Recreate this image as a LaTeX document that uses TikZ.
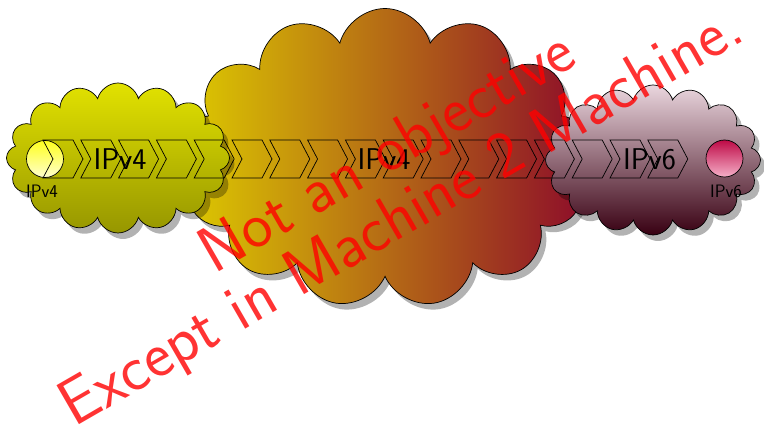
\documentclass[tikz,border=0pt]{standalone}
\usepackage{fontspec}
\usetikzlibrary{shapes.symbols,shadows}
\definecolor{lctop}{RGB}{226,226,0}
\definecolor{lcbot}{RGB}{150,150,0}
\definecolor{bcleft}{RGB}{222,204,0}
\definecolor{bcright}{RGB}{140,10,42}
\definecolor{rctop}{RGB}{234,214,222}
\definecolor{rcbot}{RGB}{56,0,18}
\definecolor{cytop}{RGB}{255,255,30}
\definecolor{cybot}{RGB}{255,255,205}
\definecolor{cptop}{RGB}{190,10,70}
\definecolor{cpbot}{RGB}{245,175,200}
\definecolor{wmred}{RGB}{255,0,0}
\tikzset{
  cloudbase/.style={shape=cloud, draw=black, line width=0.7pt, inner sep=0pt,
    drop shadow={shadow xshift=5pt, shadow yshift=-6pt, opacity=0.3, fill=black}},
  endpoint/.style={circle, draw=black, line width=0.7pt, minimum size=37pt, inner sep=0pt},
  chevron/.style={draw=black, line width=0.7pt, line join=miter},
  biglabel/.style={font=\sffamily\fontsize{30}{36}\selectfont, anchor=base, inner sep=0pt},
  smalllabel/.style={font=\sffamily\fontsize{18}{22}\selectfont, anchor=base, inner sep=0pt},
  watermark/.style={font=\sffamily\fontsize{65}{63}\selectfont, text=wmred, text opacity=0.8,
    rotate=30, anchor=base, inner sep=0pt}
}
\begin{document}
\begin{tikzpicture}[x=1pt,y=-1pt]
\useasboundingbox (0,0) rectangle (764,425);
% clouds
\node[cloudbase, cloud puffs=13, minimum width=410pt, minimum height=299pt, aspect=1.37,
      left color=bcleft, right color=bcright] (bigcloud) at (385,158) {};
\node[cloudbase, cloud puffs=16, minimum width=223pt, minimum height=150pt, aspect=1.49,
      top color=lctop, bottom color=lcbot] (leftcloud) at (118,158) {};
\node[cloudbase, cloud puffs=16, minimum width=215pt, minimum height=150pt, aspect=1.43,
      top color=rctop, bottom color=rcbot] (rightcloud) at (653,160) {};
% end points
\node[endpoint, top color=cytop, bottom color=cybot] (v4end) at (45,159) {};
\node[endpoint, top color=cptop, bottom color=cpbot] (v6end) at (724.5,158.5) {};
% chevrons
\foreach \k in {0,...,16}{
  \pgfmathsetmacro{\xa}{43+37.8*\k}
  \draw[chevron] (\xa,140) -- (\xa+30,140) -- (\xa+40,159) -- (\xa+30,178)
     -- (\xa,178) -- (\xa+10,159) -- cycle;
}
% labels
\node[biglabel] (lbla) at (120,170) {IPv4};
\node[biglabel] (lblb) at (384,170) {IPv4};
\node[biglabel] (lblc) at (649.5,170) {IPv6};
\node[smalllabel] (v4lbl) at (42,198) {IPv4};
\node[smalllabel] (v6lbl) at (726,198) {IPv6};
% watermark
\node[watermark] (wma) at (396.8,168.9) {Not an objective};
\node[watermark] (wmb) at (410.7,233.4) {Except in Machine 2 Machine.};
\end{tikzpicture}
\end{document}
